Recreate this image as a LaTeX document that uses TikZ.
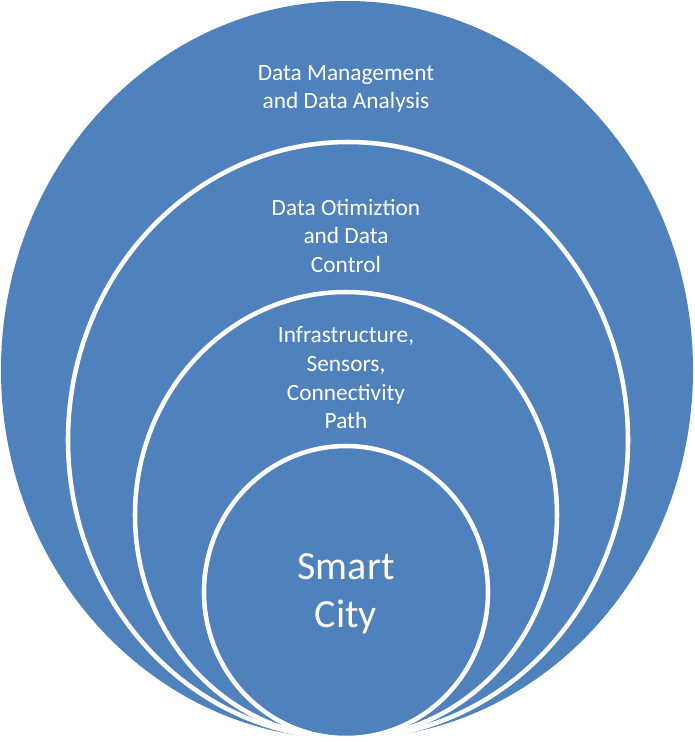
\documentclass[tikz,border=0pt]{standalone}
\usepackage{fontspec}
\setmainfont{Carlito}
\usetikzlibrary{shapes.geometric}
\definecolor{ringblue}{HTML}{4F81BD}

\begin{document}
\begin{tikzpicture}[x=0.75pt, y=-0.75pt,
    ring/.style={ellipse, fill=ringblue, inner sep=0pt, outer sep=0pt},
    edge/.style={draw=white, line width=3.4pt},
    lbl/.style={text=white, align=center, font=\fontsize{17.5}{21.5}\selectfont}]
    \useasboundingbox (0,0) rectangle (694,743);

    % nested layers, all meeting at the bottom
    \node[ring, minimum width=519pt, minimum height=553.5pt] (layerA) at (347,370) {};
    \node[ring, edge, minimum width=420pt, minimum height=447pt] (layerB) at (348,440) {};
    \node[ring, edge, minimum width=316.5pt, minimum height=334.5pt] (layerC) at (346,515) {};
    \node[ring, edge, minimum width=213pt, minimum height=219pt] (core) at (346,592) {};

    \node[lbl] (mgmt) at (346,89) {Data Management\\and Data Analysis};
    \node[lbl] (optim) at (346,236) {Data Otimiztion\\and Data\\Control};
    \node[lbl] (infra) at (346,378) {Infrastructure,\\Sensors,\\Connectivity\\Path};
    \node[lbl, font=\fontsize{30}{36}\selectfont] (city) at (346,594) {Smart\\City};
\end{tikzpicture}
\end{document}
